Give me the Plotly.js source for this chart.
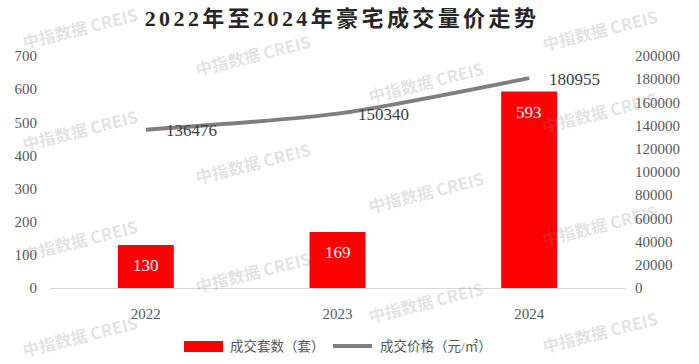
<!DOCTYPE html>
<html>
<head>
<meta charset="utf-8">
<script src="https://cdn.plot.ly/plotly-3.0.1.min.js"></script>
<style>
html,body{margin:0;padding:0;background:#fff;}
#chart{width:699px;height:364px;}
.gtitle{letter-spacing:3.4px;}
</style>
</head>
<body>
<div id="chart"></div>
<script>
// ---- data ----
const years = ['2022', '2023', '2024'];
const units = [130, 169, 593];              // 成交套数(套)
const prices = [136476, 150340, 180955];    // 成交价格(元/㎡)
const seriesNames = ['成交套数（套）', '成交价格（元/㎡）'];
const titleText = '2022年至2024年豪宅成交量价走势';
const watermarkText = '中指数据 CREIS';

const serif = 'Liberation Serif, DejaVu Serif, Noto Sans CJK SC, serif';

// plot area geometry (pixels) used to place paper-coordinate decorations
const L = 50, R = 625, T = 56, B = 288;
const px = x => (x - L) / (R - L);
const py = y => (B - y) / (B - T);

const traces = [
  {
    type: 'bar', x: years, y: units, name: seriesNames[0],
    marker: {color: '#ff0000'}, hoverinfo: 'skip', showlegend: false
  },
  {
    type: 'scatter', mode: 'lines', x: years, y: prices, yaxis: 'y2', name: seriesNames[1],
    line: {color: '#7f7f7f', width: 4, shape: 'spline', smoothing: 0.7},
    hoverinfo: 'skip', showlegend: false
  }
];

const annotations = [];
const wm = [[80,28],[80,130],[80,240],[80,336],
            [253,55],[253,163],[253,272],
            [426,82],[426,192],[426,302],
            [600,30],[600,112],[600,225],[600,332]];
years.forEach((yr, i) => {
  annotations.push({x: i, y: units[i], xref: 'x', yref: 'y', text: String(units[i]),
    showarrow: false, yanchor: 'middle', yshift: -21,
    font: {family: serif, size: 17, color: '#ffffff'}});
  annotations.push({x: i, y: prices[i], xref: 'x', yref: 'y2', text: String(prices[i]),
    showarrow: false, xanchor: 'left', yanchor: 'middle', xshift: 18, yshift: -1,
    font: {family: serif, size: 17, color: '#404040'}});
});
annotations.push({xref: 'paper', yref: 'paper', x: px(228), y: py(346), xanchor: 'left', yanchor: 'middle',
  text: seriesNames[0], showarrow: false, font: {family: serif, size: 13.5, color: '#595959'}});
annotations.push({xref: 'paper', yref: 'paper', x: px(378), y: py(346), xanchor: 'left', yanchor: 'middle',
  text: seriesNames[1], showarrow: false, font: {family: serif, size: 13.5, color: '#595959'}});
wm.forEach(p => {
  annotations.push({xref: 'paper', yref: 'paper', x: px(p[0]), y: py(p[1]), xanchor: 'center', yanchor: 'middle',
    text: '<b>' + watermarkText + '</b>', textangle: -14, showarrow: false,
    font: {family: 'Noto Sans CJK SC, Noto Sans, sans-serif', size: 16.5, color: 'rgba(128,128,128,0.23)'}});
});

const shapes = [
  {type: 'rect', xref: 'paper', yref: 'paper', x0: px(184), x1: px(223), y0: py(352), y1: py(341),
   fillcolor: '#ff0000', line: {width: 0}},
  {type: 'line', xref: 'paper', yref: 'paper', x0: px(333), x1: px(372), y0: py(346), y1: py(346),
   line: {color: '#7f7f7f', width: 4}}
];

const tickFont = {family: serif, size: 15, color: '#595959'};

const layout = {
  width: 699, height: 364,
  margin: {l: L, r: 699 - R, t: T, b: 364 - B, pad: 0},
  paper_bgcolor: '#ffffff', plot_bgcolor: '#ffffff',
  showlegend: false,
  bargap: 0.708,
  title: {text: titleText, xref: 'paper', x: px(342), xanchor: 'center',
          yref: 'container', y: 1 - 18 / 364, yanchor: 'middle',
          font: {family: serif, size: 22, color: '#262626', weight: 'bold'}},
  xaxis: {type: 'category', range: [-0.5, 2.5], autorange: false,
          showgrid: false, zeroline: false, showline: true, linecolor: '#d9d9d9', linewidth: 1,
          ticks: 'outside', ticklen: 12, tickcolor: 'rgba(0,0,0,0)', tickfont: tickFont, fixedrange: true},
  yaxis: {range: [0, 700], autorange: false, dtick: 100, tickformat: 'd', showgrid: false, zeroline: false, showline: false,
          ticks: 'outside', ticklen: 9, tickcolor: 'rgba(0,0,0,0)', tickfont: tickFont, fixedrange: true},
  yaxis2: {range: [0, 200000], autorange: false, dtick: 20000, tickformat: 'd', overlaying: 'y', side: 'right',
           showgrid: false, zeroline: false, showline: false,
           ticks: 'outside', ticklen: 6, tickcolor: 'rgba(0,0,0,0)', tickfont: tickFont, fixedrange: true},
  annotations: annotations,
  shapes: shapes
};

Plotly.newPlot('chart', traces, layout, {displayModeBar: false, staticPlot: true});
</script>
</body>
</html>
